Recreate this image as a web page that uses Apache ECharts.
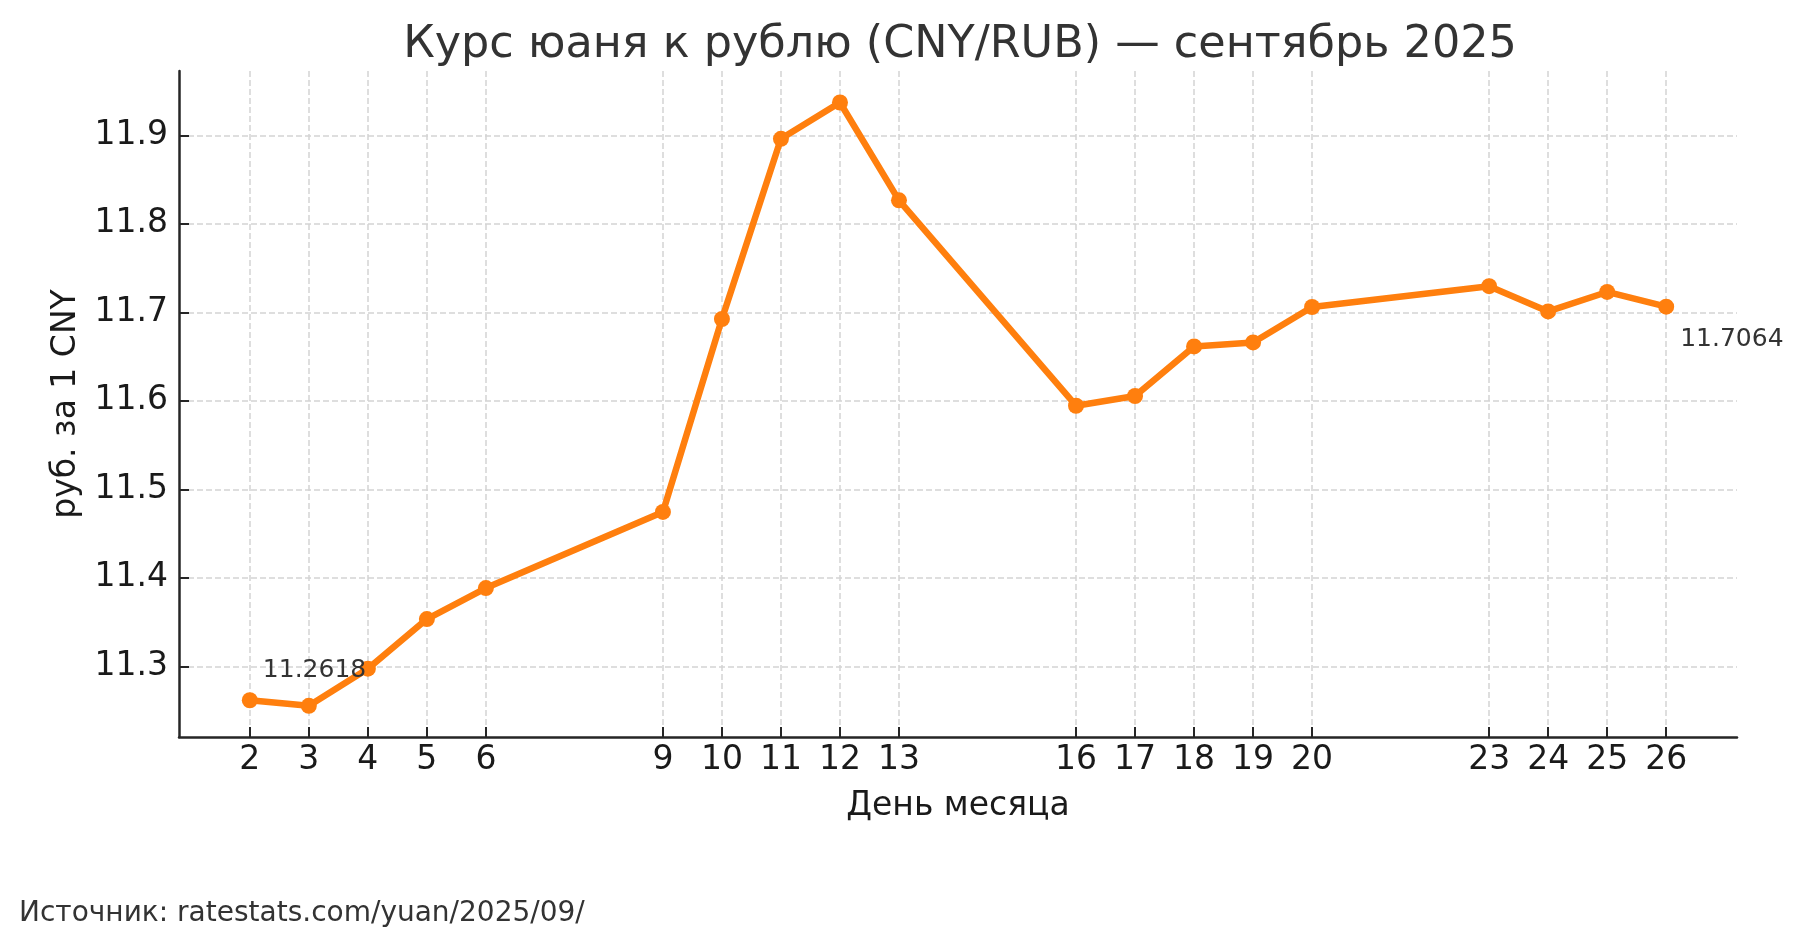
<!DOCTYPE html>
<html>
<head>
<meta charset="utf-8">
<script src="https://cdn.jsdelivr.net/npm/echarts@6.0.0/dist/echarts.min.js"></script>
<style>
  html, body { margin: 0; padding: 0; background: #fff; }
  #chart { width: 1802px; height: 947px; }
</style>
</head>
<body>
<div id="chart"></div>
<script>
var dom = document.getElementById('chart');
var myChart = echarts.init(dom, null, { renderer: 'canvas' });

// торговые дни сентября 2025
var days = [2, 3, 4, 5, 6, 9, 10, 11, 12, 13, 16, 17, 18, 19, 20, 23, 24, 25, 26];
// курс, руб. за 1 CNY
var rates = [11.2618, 11.2555, 11.2975, 11.3535, 11.3885, 11.4745, 11.6925, 11.8960, 11.9370, 11.8265,
             11.5945, 11.6055, 11.6615, 11.6660, 11.7060, 11.7295, 11.7010, 11.7230, 11.7064];
var yTicks = [11.3, 11.4, 11.5, 11.6, 11.7, 11.8, 11.9];

var font = 'DejaVu Sans';
var axisColor = '#262626';
var gridStyle = { color: '#d4d4d4', width: 1.5, type: [6, 3] };

var seriesData = days.map(function (d, i) {
    var item = { value: [d, rates[i]] };
    if (i === 0) {
        item.label = { show: true, offset: [13, -30] };
    } else if (i === days.length - 1) {
        item.label = { show: true, offset: [14, 33] };
    }
    return item;
});

var option = {
    backgroundColor: '#fff',
    animation: false,
    title: [
        {
            text: 'Курс юаня к рублю (CNY/RUB) — сентябрь 2025',
            left: 960,
            textAlign: 'center',
            top: 23,
            padding: 0,
            textStyle: { fontFamily: font, fontSize: 44.5, fontWeight: 'normal', color: '#333' }
        },
        {
            text: 'Источник: ratestats.com/yuan/2025/09/',
            left: 19,
            top: 900,
            padding: 0,
            textStyle: { fontFamily: font, fontSize: 28, fontWeight: 'normal', color: '#333' }
        }
    ],
    grid: { left: 179, right: 65, top: 71, bottom: 210, outerBoundsMode: 'none' },
    xAxis: {
        type: 'value',
        min: 0.8,
        max: 27.2,
        name: 'День месяца',
        nameLocation: 'middle',
        nameGap: 53,
        nameTextStyle: { fontFamily: font, fontSize: 33, color: '#1a1a1a' },
        axisLine: { show: true, lineStyle: { color: axisColor, width: 2.5 } },
        axisTick: { show: true, inside: true, length: 10, customValues: days, lineStyle: { color: axisColor, width: 2 } },
        axisLabel: { customValues: days, margin: 7, fontFamily: font, fontSize: 33, color: '#1a1a1a' },
        splitLine: { show: true, lineStyle: gridStyle }
    },
    yAxis: {
        type: 'value',
        min: 11.2203,
        max: 11.9726,
        name: 'руб. за 1 CNY',
        nameLocation: 'middle',
        nameGap: 96,
        nameTextStyle: { fontFamily: font, fontSize: 33, color: '#1a1a1a' },
        axisLine: { show: true, lineStyle: { color: axisColor, width: 2.5 } },
        axisTick: { show: true, inside: true, length: 10, customValues: yTicks, lineStyle: { color: axisColor, width: 2 } },
        axisLabel: {
            customValues: yTicks,
            margin: 11,
            fontFamily: font,
            fontSize: 33,
            color: '#1a1a1a',
            formatter: function (v) { return v.toFixed(1); }
        },
        splitLine: { show: true, lineStyle: gridStyle }
    },
    series: [
        {
            type: 'line',
            data: seriesData,
            symbol: 'circle',
            symbolSize: 16,
            lineStyle: { color: '#ff7f0e', width: 6.5 },
            itemStyle: { color: '#ff7f0e' },
            label: {
                show: false,
                position: 'inside',
                align: 'left',
                verticalAlign: 'middle',
                fontFamily: font,
                fontSize: 25,
                color: '#333',
                formatter: function (p) { return p.value[1].toFixed(4); }
            },
            z: 3
        }
    ]
};
myChart.setOption(option);
window.addEventListener('resize', myChart.resize);
</script>
</body>
</html>
